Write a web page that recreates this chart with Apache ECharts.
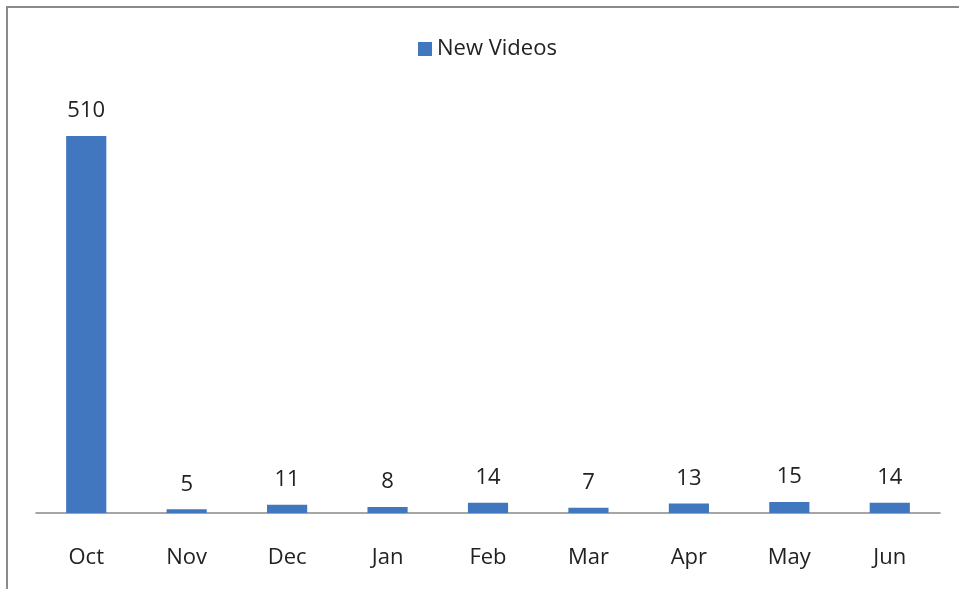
<!DOCTYPE html>
<html>
<head>
<meta charset="utf-8">
<style>
  html, body { margin: 0; padding: 0; background: #fff; }
  #chart-container { width: 959px; height: 589px; }
</style>
<script src="https://cdn.jsdelivr.net/npm/echarts@6/dist/echarts.min.js"></script>
</head>
<body>
<div id="chart-container"></div>
<script>
let months = ["Oct", "Nov", "Dec", "Jan", "Feb", "Mar", "Apr", "May", "Jun"];
let newVideos = [510, 5, 11, 8, 14, 7, 13, 15, 14];

let dom = document.getElementById("chart-container");
let myChart = echarts.init(dom, null, { renderer: "canvas" });

let font = "Open Sans";

let option = {
    animation: false,
    graphic: [{
        type: "rect",
        shape: { x: 7, y: 7, width: 1200, height: 800 },
        style: { fill: "none", stroke: "#8a8a8a", lineWidth: 2 },
    }],
    legend: {
        top: 33,
        left: 413,
        icon: "rect",
        itemWidth: 14,
        itemHeight: 14,
        itemGap: 8,
        textStyle: { fontFamily: font, fontSize: 22, color: "#222" },
        data: ["New Videos"],
    },
    grid: {
        left: 36,
        right: 19,
        top: 69.5,
        bottom: 76,
        containLabel: false,
    },
    xAxis: {
        type: "category",
        data: months,
        axisLine: { lineStyle: { color: "#888", width: 1.5 } },
        axisTick: { show: false },
        axisLabel: {
            margin: 34,
            fontFamily: font,
            fontSize: 22,
            color: "#222",
        },
    },
    yAxis: {
        type: "value",
        min: 0,
        max: 600,
        show: false,
        splitLine: { show: false },
    },
    series: [{
        name: "New Videos",
        type: "bar",
        data: newVideos,
        barWidth: "40%",
        itemStyle: { color: "#4177bf" },
        label: {
            show: true,
            position: "top",
            distance: 14,
            fontFamily: font,
            fontSize: 22,
            color: "#222",
        },
    }],
};

myChart.setOption(option);
window.addEventListener("resize", myChart.resize);
</script>
</body>
</html>
